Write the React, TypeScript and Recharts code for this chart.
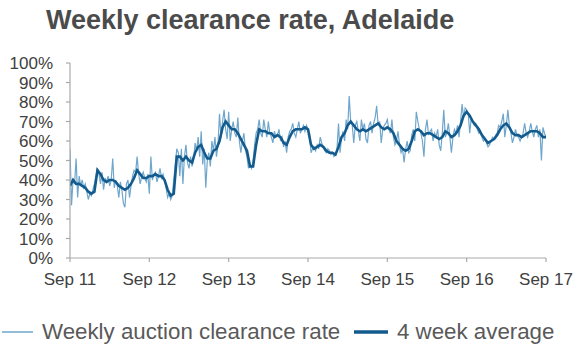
import React from 'react';
import { LineChart, Line, XAxis, YAxis } from 'recharts';

// Weekly auction clearance rate (%), one value per week from Sep 2011 to Sep 2017
const weeklyRate: number[] = [
  // Sep 11 - Sep 12
  56, 27, 40, 38, 51, 31, 42, 37, 40, 36, 38, 34, 30, 33, 32, 35, 38, 42, 46, 43,
  38, 44, 35, 41, 39, 42, 37, 40, 51, 36, 40, 37, 31, 39, 35, 28, 26, 38, 40, 31,
  37, 42, 45, 44, 52, 43, 38, 42, 44, 41, 39, 43,
  // Sep 12 - Sep 13
  33, 52, 40, 43, 44, 39, 42, 46, 41, 43, 40, 36, 31, 33, 30, 32, 40, 48, 56, 54,
  42, 56, 38, 52, 58, 49, 46, 52, 47, 50, 59, 55, 62, 52, 65, 48, 56, 36, 50, 54,
  47, 60, 55, 62, 52, 58, 74, 62, 70, 76, 66, 61,
  // Sep 13 - Sep 14
  75, 60, 66, 70, 64, 62, 72, 60, 54, 60, 64, 55, 52, 46, 48, 46, 50, 58, 64, 66,
  71, 64, 62, 71, 66, 62, 70, 64, 62, 59, 65, 62, 63, 66, 60, 62, 57, 60, 54, 62,
  65, 66, 69, 64, 62, 66, 70, 64, 66, 68, 65, 68,
  // Sep 14 - Sep 15
  66, 64, 54, 56, 57, 55, 58, 56, 62, 59, 57, 55, 54, 56, 55, 53, 54, 52, 53, 56,
  69, 54, 62, 65, 60, 71, 66, 83, 70, 68, 59, 68, 70, 65, 60, 71, 66, 69, 61, 59,
  68, 70, 64, 69, 72, 78, 68, 70, 59, 66, 68, 69,
  // Sep 15 - Sep 16
  71, 66, 64, 71, 62, 58, 60, 65, 58, 54, 56, 49, 56, 60, 54, 55, 63, 66, 60, 75,
  70, 66, 64, 60, 52, 66, 71, 63, 65, 66, 60, 64, 62, 66, 58, 55, 64, 76, 62, 64,
  69, 62, 54, 62, 66, 64, 68, 62, 70, 79, 72, 77,
  // Sep 16 - Sep 17
  76, 74, 64, 72, 70, 68, 69, 66, 64, 65, 62, 60, 61, 59, 57, 58, 60, 62, 61, 63,
  64, 68, 67, 70, 74, 62, 68, 76, 68, 64, 59, 62, 66, 63, 62, 60, 62, 64, 69, 64,
  62, 65, 69, 65, 62, 66, 68, 62, 66, 50, 67, 64, 62,
];

// 4 week average (%), one value every second week
const fourWeekAvg: number[] = [
  37, 40, 38, 38, 37, 36, 34, 33, 34, 45, 43, 40, 39, 40, 40, 39, 37, 36, 35, 36,
  38, 41, 45, 43, 41, 41,
  42, 42, 43, 42, 42, 40, 35, 32, 33, 52, 52, 50, 52, 50, 49, 54, 57, 58, 54, 51,
  51, 55, 56, 60, 67, 70,
  68, 66, 66, 64, 61, 58, 55, 47, 47, 58, 66, 65, 65, 64, 64, 62, 63, 62, 59, 58,
  62, 65, 66, 66, 66, 67,
  66, 58, 56, 57, 58, 57, 55, 54, 54, 53, 57, 62, 64, 68, 70, 68, 66, 65, 66, 65,
  66, 67, 68, 69, 67, 66,
  67, 66, 64, 60, 58, 56, 55, 56, 60, 65, 66, 65, 63, 64, 64, 63, 62, 61, 62, 65,
  64, 62, 63, 65, 68, 73,
  75, 73, 70, 68, 66, 63, 61, 59, 60, 61, 63, 66, 68, 69, 67, 64, 63, 63, 62, 63,
  64, 65, 65, 65, 64, 62, 62,
];

const xTickWeeks: number[] = [0, 52, 104, 156, 208, 260, 312];
const xTickLabels: string[] = ['Sep 11', 'Sep 12', 'Sep 13', 'Sep 14', 'Sep 15', 'Sep 16', 'Sep 17'];
const yTicks: number[] = [0, 10, 20, 30, 40, 50, 60, 70, 80, 90, 100];

const weeklyRows = weeklyRate.map((v, i) => ({ w: i, v }));
const avgRows = fourWeekAvg.map((v, i) => ({ w: i * 2, v }));

const FONT = '"Liberation Sans", Arial, Helvetica, sans-serif';
const WEEKLY_COLOR = '#6fa6cc';
const AVG_COLOR = '#135b8d';
const AXIS_COLOR = '#a9a9a9';
const TEXT_COLOR = '#404040';

export default function App() {
  return (
    <div style={{ position: 'absolute', left: 0, top: 0, width: 580, height: 352, background: '#fff', fontFamily: FONT }}>
      <svg width={580} height={50} style={{ position: 'absolute', left: 0, top: 0 }}>
        <text x={46} y={29} fontSize={27} fontWeight="bold" fill="#4b4b4b" fontFamily={FONT}>
          Weekly clearance rate, Adelaide
        </text>
      </svg>
      <div style={{ position: 'absolute', left: 0, top: 0 }}>
        <LineChart width={580} height={300} margin={{ top: 63, right: 34, bottom: 12, left: 0 }}>
          <XAxis
            type="number"
            dataKey="w"
            domain={[0, 312]}
            ticks={xTickWeeks}
            tickFormatter={(w: number) => xTickLabels[xTickWeeks.indexOf(w)] ?? ''}
            interval={0}
            height={30}
            tickSize={4}
            tickMargin={11}
            axisLine={{ stroke: AXIS_COLOR, strokeWidth: 1.2 }}
            tickLine={{ stroke: AXIS_COLOR, strokeWidth: 1.2 }}
            tick={{ fill: TEXT_COLOR, fontSize: 17, fontFamily: FONT }}
            allowDataOverflow
          />
          <YAxis
            type="number"
            domain={[0, 100]}
            ticks={yTicks}
            interval={0}
            width={70}
            tickSize={4}
            tickMargin={13}
            tickFormatter={(v: number) => `${v}%`}
            axisLine={{ stroke: AXIS_COLOR, strokeWidth: 1.2 }}
            tickLine={{ stroke: AXIS_COLOR, strokeWidth: 1.2 }}
            tick={{ fill: TEXT_COLOR, fontSize: 17, fontFamily: FONT }}
          />
          <Line
            data={weeklyRows}
            dataKey="v"
            type="linear"
            stroke={WEEKLY_COLOR}
            strokeWidth={1.2}
            dot={false}
            isAnimationActive={false}
          />
          <Line
            data={avgRows}
            dataKey="v"
            type="linear"
            stroke={AVG_COLOR}
            strokeWidth={2.6}
            dot={false}
            isAnimationActive={false}
          />
        </LineChart>
      </div>
      <svg width={580} height={52} style={{ position: 'absolute', left: 0, top: 300 }}>
        <line x1={2} y1={32} x2={33} y2={32} stroke={WEEKLY_COLOR} strokeWidth={1.5} />
        <text x={42} y={39} fontSize={22.3} fill="#595959" fontFamily={FONT}>
          Weekly auction clearance rate
        </text>
        <line x1={354} y1={32} x2={388} y2={32} stroke={AVG_COLOR} strokeWidth={3.5} />
        <text x={397} y={39} fontSize={22.3} fill="#595959" fontFamily={FONT}>
          4 week average
        </text>
      </svg>
    </div>
  );
}
